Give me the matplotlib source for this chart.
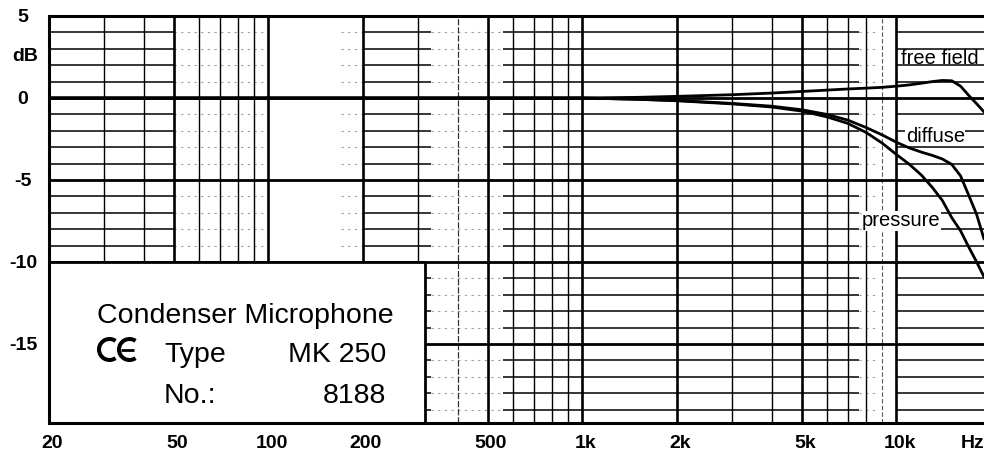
import matplotlib
matplotlib.use("Agg")
import matplotlib.pyplot as plt
from matplotlib.patches import Rectangle, Arc
from matplotlib.ticker import NullLocator
from matplotlib.transforms import ScaledTranslation

plt.rcParams["font.family"] = ["Liberation Sans", "DejaVu Sans"]

# Frequency response of the capsule (dB re. 1 kHz)
freq_hz = [20, 200, 1000, 1500, 2000, 3000, 4000, 5000, 6000, 7000, 8000, 9000,
           10000, 11000, 12000, 13000, 14000, 15000, 16000, 17000, 18000, 19000]
free_field_db = [0, 0, 0, 0.04, 0.1, 0.2, 0.3, 0.4, 0.48, 0.55, 0.6, 0.65,
                 0.72, 0.8, 0.9, 1.0, 1.07, 1.05, 0.72, 0.15, -0.35, -0.85]
diffuse_db = [0, 0, 0, -0.08, -0.15, -0.33, -0.5, -0.72, -1.0, -1.35, -1.8, -2.25,
              -2.7, -3.05, -3.3, -3.5, -3.72, -4.05, -4.75, -5.95, -7.1, -8.6]
pressure_db = [0, 0, 0, -0.08, -0.17, -0.36, -0.55, -0.8, -1.15, -1.55, -2.1, -2.75,
               -3.45, -4.05, -4.7, -5.45, -6.25, -7.3, -8.1, -9.1, -10.0, -10.9]

x_ticks = [20, 50, 100, 200, 500, 1000, 2000, 5000, 10000]
x_tick_labels = ["20", "50", "100", "200", "500", "1k", "2k", "5k", "10k"]
y_ticks = [5, 0, -5, -10, -15]
y_tick_labels = ["5", "0", "-5", "-10", "-15"]

W, H = 984, 457
F_MIN, F_MAX = 20, 19000
Y_MIN, Y_MAX = -19.82, 5

fig = plt.figure(figsize=(W / 100, H / 100), dpi=100)
ax = fig.add_axes([49 / W, 1 - 423 / H, (W - 49) / W, (423 - 16) / H])
ax.set_xscale("log")
ax.set_xlim(F_MIN, F_MAX)
ax.set_ylim(Y_MIN, Y_MAX)

# --- chart paper grid ---------------------------------------------------
minor_db = [d for d in range(-19, 5) if d % 5 != 0]
major_db = [0, -5, -10, -15]
solid_spans = [(20, 50), (200, 330), (560, 7600), (10000, F_MAX)]
faint_spans = [(50, 100), (170, 200), (330, 560), (7600, 8700)]
for d in minor_db:
    for f0, f1 in solid_spans:
        ax.hlines(d, f0, f1, color="k", lw=1.1, zorder=1)
    for f0, f1 in faint_spans:
        ax.hlines(d, f0, f1, color="0.62", lw=0.8, ls=(0, (2, 4)), zorder=1)
for d in major_db:
    ax.axhline(d, color="k", lw=2.0, zorder=1.5)

thick_f = [50, 100, 200, 500, 1000, 2000, 5000, 10000]
thin_f = [30, 40, 60, 70, 80, 90, 300, 600, 700, 800, 900, 3000, 4000, 6000, 7000, 8000]
for f in thick_f:
    ax.axvline(f, color="k", lw=1.9, zorder=1.5)
for f in thin_f:
    ax.axvline(f, color="k", lw=1.0, zorder=1.2)
ax.axvline(400, color="0.2", lw=0.9, ls=(0, (5, 1.5)), zorder=1.2)
ax.axvline(9000, color="0.35", lw=0.8, ls=(0, (4, 2)), zorder=1.2)

for side in ("top", "bottom", "left"):
    ax.spines[side].set_linewidth(2.2)
    ax.spines[side].set_zorder(6)
ax.spines["right"].set_visible(False)

# --- ticks --------------------------------------------------------------
ax.set_xticks(x_ticks)
ax.set_xticklabels(x_tick_labels)
ax.xaxis.set_minor_locator(NullLocator())
ax.set_yticks(y_ticks)
ax.set_yticklabels(y_tick_labels)
ax.tick_params(axis="both", length=0, labelsize=14)
ax.tick_params(axis="x", pad=8.6)
ax.tick_params(axis="y", pad=18.7)
shift_right = ScaledTranslation(3 / 100, 0, fig.dpi_scale_trans)
for lab in ax.get_xticklabels():
    lab.set_fontweight("bold")
    lab.set_transform(lab.get_transform() + shift_right)
for lab in ax.get_yticklabels():
    lab.set_fontweight("bold")
    lab.set_horizontalalignment("center")

ax.annotate("dB", xy=(0, 2.5), xycoords=("axes fraction", "data"),
            xytext=(-17.5, 0), textcoords="offset points",
            ha="center", va="center", fontsize=14, fontweight="bold")
ax.annotate("Hz", xy=(17500, 0), xycoords=("data", "axes fraction"),
            xytext=(0, -8.6), textcoords="offset points",
            ha="center", va="top", fontsize=14, fontweight="bold")

# --- response curves ----------------------------------------------------
for series in (free_field_db, diffuse_db, pressure_db):
    ax.plot(freq_hz, series, color="k", lw=2.0, zorder=4,
            solid_capstyle="round", solid_joinstyle="round")

ax.text(10300, 2.38, "free field", fontsize=14.5, ha="left", va="center", zorder=3.8)
ax.text(10700, -2.35, "diffuse", fontsize=14.5, ha="left", va="center", zorder=3.8,
        bbox=dict(fc="white", ec="none", pad=0.3))
ax.text(7770, -7.5, "pressure", fontsize=14.5, ha="left", va="center", zorder=3.8,
        bbox=dict(fc="white", ec="none", pad=0.3))

# --- name plate ---------------------------------------------------------
plate_right = 315
ax.add_patch(Rectangle((F_MIN, Y_MIN), plate_right - F_MIN, -10 - Y_MIN,
                       fc="white", ec="none", zorder=3))
ax.plot([F_MIN, plate_right, plate_right], [-10, -10, Y_MIN],
        color="k", lw=2.0, zorder=3.5, solid_capstyle="butt")


def fpos(x, y):
    return x / W, 1 - y / H


fig.text(*fpos(97, 323), "Condenser Microphone", fontsize=20.5,
         ha="left", va="baseline")
fig.text(*fpos(164, 362), "Type", fontsize=20.5, ha="left", va="baseline")
fig.text(*fpos(386, 362), "MK 250", fontsize=20.5, ha="right", va="baseline")
fig.text(*fpos(164, 403), "No.:", fontsize=20.5, ha="left", va="baseline")
fig.text(*fpos(386, 403), "8188", fontsize=20.5, ha="right", va="baseline")

# CE conformity mark
ce_ax = fig.add_axes([97 / W, 1 - 362 / H, 42 / W, 25 / H])
ce_ax.set_xlim(0, 42)
ce_ax.set_ylim(0, 25)
ce_ax.axis("off")
for cx in (12.5, 32.5):
    ce_ax.add_patch(Arc((cx, 12.5), 21, 21, theta1=55, theta2=305,
                        lw=2.9, color="k"))
ce_ax.plot([24, 37], [12.5, 12.5], color="k", lw=2.0, solid_capstyle="butt")

fig.savefig("out.png", dpi=100)
